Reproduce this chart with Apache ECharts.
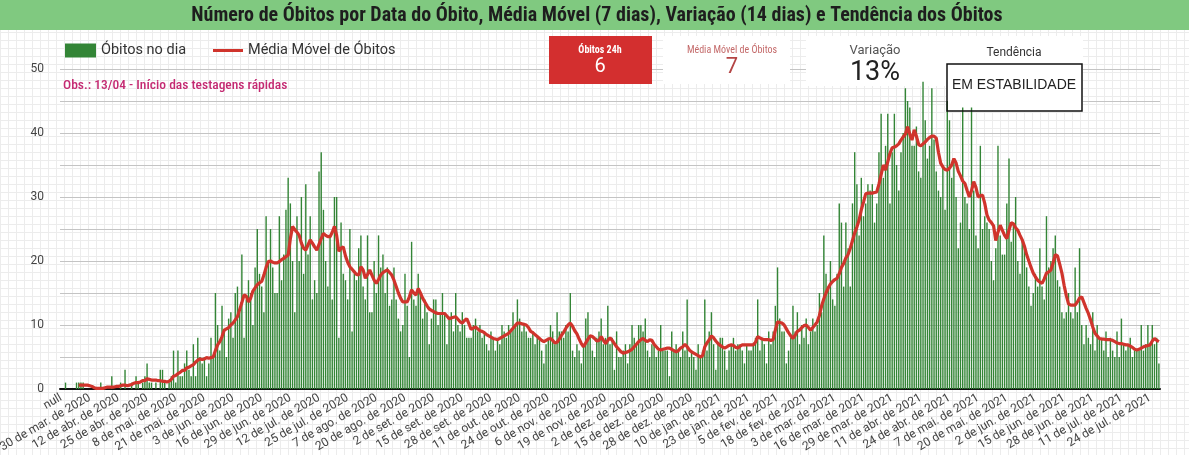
<!DOCTYPE html>
<html>
<head>
<meta charset="utf-8">
<script src="https://cdn.jsdelivr.net/npm/echarts@6/dist/echarts.min.js"></script>
<style>
  html, body { margin: 0; padding: 0; }
  body {
    background-color: #fff;
    background-image: linear-gradient(#ececec 1px, transparent 1px), linear-gradient(90deg, #ececec 1px, transparent 1px);
    background-size: 8px 8px;
  }
  #main { width: 1189px; height: 455px; }
</style>
</head>
<body>
<div id="main"></div>
<script>
// óbitos por dia (índice 0 = data nula, depois dias a partir de 18/03/2020)
const obitos = [
  null, 0, 1, 0, 0, 0, 0, 1, 1, 1,
  1, 0, 0, 0, 0, 0, 0, 0, 1, 0,
  0, 0, 0, 2, 0, 0, 0, 1, 0, 3,
  0, 0, 1, 0, 2, 1, 0, 1, 2, 4,
  1, 1, 0, 1, 0, 3, 3, 1, 0, 1,
  2, 6, 1, 6, 2, 2, 4, 6, 3, 2,
  7, 2, 8, 5, 4, 5, 2, 4, 8, 5,
  15, 10, 6, 13, 9, 5, 11, 12, 8, 15,
  16, 12, 21, 8, 14, 17, 15, 10, 19, 25,
  18, 16, 12, 27, 20, 25, 19, 15, 15, 27,
  17, 21, 28, 33, 29, 20, 12, 27, 20, 30,
  18, 32, 21, 27, 14, 17, 15, 34, 37, 28,
  20, 16, 24, 14, 30, 30, 8, 26, 18, 17,
  14, 25, 9, 18, 17, 22, 24, 16, 14, 24,
  12, 12, 20, 15, 24, 19, 21, 15, 19, 13,
  14, 19, 14, 11, 9, 10, 18, 13, 5, 23,
  14, 13, 18, 15, 11, 14, 12, 7, 11, 14,
  14, 10, 12, 15, 12, 7, 11, 12, 9, 15,
  10, 9, 12, 10, 8, 8, 8, 10, 11, 9,
  10, 8, 9, 7, 6, 9, 8, 6, 8, 7,
  10, 9, 8, 10, 9, 12, 10, 14, 11, 9,
  10, 9, 8, 8, 9, 7, 8, 8, 6, 4,
  7, 8, 10, 9, 7, 12, 9, 9, 8, 10,
  9, 15, 6, 5, 7, 6, 4, 7, 11, 12,
  8, 6, 5, 8, 9, 11, 7, 8, 13, 7,
  8, 3, 9, 5, 5, 6, 7, 4, 7, 10,
  8, 7, 10, 10, 9, 11, 6, 5, 7, 7,
  5, 6, 10, 6, 6, 6, 2, 9, 6, 7,
  6, 5, 9, 6, 14, 5, 6, 5, 3, 7,
  5, 6, 14, 6, 9, 12, 7, 3, 7, 8,
  8, 6, 3, 6, 7, 8, 6, 7, 7, 6,
  4, 7, 6, 6, 7, 8, 14, 6, 8, 7,
  4, 9, 7, 9, 13, 19, 11, 9, 9, 4,
  6, 8, 13, 9, 12, 7, 10, 8, 11, 7,
  9, 11, 9, 10, 15, 12, 24, 18, 16, 20,
  14, 13, 18, 29, 26, 16, 26, 22, 16, 29,
  37, 32, 24, 33, 27, 29, 32, 31, 32, 26,
  29, 37, 43, 33, 38, 43, 29, 37, 43, 35,
  31, 37, 40, 47, 45, 44, 38, 38, 41, 34,
  33, 48, 42, 36, 38, 47, 39, 34, 31, 30,
  35, 28, 45, 42, 33, 36, 30, 22, 26, 44,
  30, 29, 25, 44, 31, 24, 22, 38, 25, 27,
  26, 25, 20, 17, 22, 38, 24, 21, 21, 29,
  36, 23, 26, 30, 20, 18, 23, 22, 19, 16,
  13, 15, 18, 16, 22, 16, 14, 27, 19, 20,
  22, 24, 17, 16, 12, 11, 12, 15, 12, 11,
  19, 12, 22, 10, 7, 10, 8, 7, 12, 6,
  10, 8, 8, 6, 9, 5, 8, 6, 5, 9,
  5, 11, 7, 6, 7, 8, 5, 6, 6, 6,
  10, 6, 7, 10, 7, 10, 7, 8, 4
]

// média móvel de 7 dias
const mediaMovel = [
  null, null, null, null, null, null, null, null, 0.6, 0.6,
  0.6, 0.6, 0.6, 0.5, 0.4, 0.2, 0.1, 0.1, 0.1, 0.1,
  0.2, 0.3, 0.3, 0.3, 0.3, 0.4, 0.4, 0.5, 0.6, 0.6,
  0.5, 0.6, 0.7, 0.9, 1.0, 1.0, 1.1, 1.3, 1.3, 1.6,
  1.5, 1.4, 1.4, 1.4, 1.3, 1.3, 1.2, 1.2, 1.1, 1.2,
  1.5, 2.0, 2.1, 2.4, 2.6, 2.9, 2.9, 3.3, 3.4, 3.6,
  3.8, 4.2, 4.5, 4.7, 4.6, 4.7, 4.9, 4.8, 4.9, 5.0,
  6.0, 6.9, 7.4, 8.2, 9.2, 9.4, 9.6, 10.0, 10.3, 10.8,
  11.3, 12.4, 13.5, 14.7, 14.5, 13.6, 14.2, 15.3, 15.8, 16.3,
  16.6, 16.8, 17.8, 19.0, 19.9, 20.0, 19.8, 19.7, 19.7, 19.9,
  20.2, 20.4, 20.7, 20.9, 23.5, 25.4, 24.9, 24.5, 24.0, 22.8,
  22.0, 21.7, 22.5, 23.3, 22.8, 22.2, 21.7, 22.6, 23.5, 24.3,
  24.0, 23.8, 23.8, 24.5, 25.4, 24.0, 21.5, 22.0, 22.2, 20.8,
  19.8, 19.1, 18.7, 18.3, 17.9, 17.8, 19.1, 18.6, 17.3, 17.9,
  18.6, 17.8, 17.0, 16.5, 17.1, 17.8, 18.2, 18.4, 18.6, 18.2,
  17.8, 17.0, 16.0, 15.0, 14.2, 13.6, 13.6, 13.6, 14.4, 15.5,
  15.0, 14.7, 15.7, 15.0, 14.2, 13.6, 13.0, 12.5, 12.3, 12.1,
  11.9, 11.8, 11.8, 11.8, 11.8, 11.4, 11.0, 11.1, 11.2, 11.3,
  10.9, 10.5, 10.3, 10.7, 11.0, 10.2, 9.3, 9.5, 9.7, 9.4,
  9.1, 9.0, 8.8, 8.5, 8.3, 8.1, 7.9, 7.8, 7.7, 7.9,
  8.1, 8.3, 8.5, 8.7, 9.1, 9.5, 9.9, 10.3, 10.3, 10.2,
  10.1, 10.0, 9.6, 9.0, 8.8, 8.5, 8.2, 7.9, 7.6, 7.4,
  7.6, 7.8, 7.9, 7.6, 7.2, 7.3, 7.8, 8.4, 8.9, 9.5,
  10.0, 10.3, 9.8, 9.1, 8.6, 7.8, 7.1, 6.6, 7.2, 7.8,
  8.3, 8.2, 7.9, 7.5, 7.6, 8.2, 7.6, 7.1, 7.6, 8.0,
  7.6, 7.1, 6.6, 6.2, 5.8, 5.6, 5.7, 5.8, 6.0, 6.2,
  6.6, 7.0, 7.4, 7.7, 7.9, 7.6, 7.4, 7.7, 7.6, 7.0,
  6.6, 6.2, 6.1, 6.2, 6.3, 6.4, 6.4, 6.2, 6.0, 5.8,
  6.0, 6.4, 6.6, 7.0, 6.6, 6.1, 5.8, 5.6, 5.4, 5.2,
  5.0, 5.2, 6.6, 7.2, 7.7, 8.3, 8.0, 7.5, 7.1, 6.8,
  6.6, 6.4, 6.6, 6.8, 6.9, 6.8, 6.5, 6.4, 6.7, 6.9,
  6.9, 6.9, 6.9, 6.9, 6.9, 7.3, 8.2, 8.0, 7.8, 7.7,
  7.7, 7.7, 7.6, 7.7, 9.2, 10.5, 10.4, 10.3, 10.0, 9.4,
  8.8, 8.3, 7.9, 8.4, 9.0, 9.2, 9.6, 9.9, 10.0, 9.6,
  9.2, 9.6, 10.0, 10.5, 11.5, 13.0, 14.1, 15.0, 15.8, 16.4,
  16.8, 17.1, 17.3, 18.0, 19.0, 19.6, 20.5, 21.0, 22.0, 23.2,
  24.4, 25.3, 26.4, 28.0, 29.2, 30.5, 30.6, 30.6, 30.6, 30.7,
  30.8, 32.0, 33.5, 35.0, 34.2, 35.5, 36.8, 37.7, 37.8, 38.0,
  38.3, 38.9, 39.4, 39.8, 41.0, 39.8, 38.9, 40.5, 39.5, 38.2,
  38.0, 38.3, 38.6, 39.0, 39.3, 39.5, 39.5, 39.2, 37.0, 35.3,
  34.7, 34.3, 34.2, 34.5, 35.0, 36.0, 35.3, 34.0, 33.3, 32.5,
  32.1, 31.0, 30.0, 31.0, 32.4, 31.5, 30.0, 30.2, 30.3, 29.0,
  27.2, 26.4, 26.0, 25.5, 23.2, 24.5, 25.6, 24.8, 24.0, 23.5,
  24.8, 26.0, 25.8, 25.2, 24.8, 24.0, 23.3, 22.3, 21.0, 20.0,
  19.0, 18.1, 17.5, 17.0, 16.7, 16.5, 17.2, 18.1, 18.3, 18.6,
  19.7, 21.0, 20.8, 19.5, 18.1, 16.2, 14.6, 13.3, 13.1, 13.1,
  13.1, 13.6, 14.2, 14.4, 13.5, 12.6, 11.8, 10.8, 9.7, 8.7,
  8.3, 7.9, 7.8, 7.8, 7.7, 7.7, 7.7, 7.6, 7.4, 7.2,
  7.1, 7.1, 7.0, 6.9, 6.9, 6.7, 6.5, 6.2, 6.1, 6.2,
  6.4, 6.6, 6.7, 6.8, 6.9, 7.5, 7.9, 7.6, 7.4
]

// eixo x: categoria "null" seguida dos dias
const primeiroDia = Date.UTC(2020, 2, 18)
const meses = ['jan.', 'fev.', 'mar.', 'abr.', 'mai.', 'jun.', 'jul.', 'ago.', 'set.', 'out.', 'nov.', 'dez.']
const categorias = ['null']
for (let i = 1; i < obitos.length; i++) {
  const d = new Date(primeiroDia + (i - 1) * 86400000)
  categorias.push(`${d.getUTCDate()} de ${meses[d.getUTCMonth()]} de ${d.getUTCFullYear()}`)
}

// indicadores do painel
const obitos24h = '6'
const mediaAtual = '7'
const variacao = '13%'
const tendencia = 'EM ESTABILIDADE'

const condensed = "'Roboto Condensed', 'Liberation Sans Narrow', 'DejaVu Sans Condensed', Roboto, sans-serif"
const verde = '#338536'
const vermelho = '#d0342c'

const chart = echarts.init(document.getElementById('main'), null, { renderer: 'canvas' })

chart.setOption({
  animation: false,
  backgroundColor: 'transparent',
  legend: [
    {
      data: ['Óbitos no dia'],
      left: 60,
      top: 38,
      icon: 'rect',
      itemWidth: 31,
      itemHeight: 14,
      itemGap: 7,
      textStyle: { fontSize: 14.5, color: '#333', fontFamily: 'Roboto' }
    },
    {
      data: ['Média Móvel de Óbitos'],
      left: 208,
      top: 38,
      icon: 'rect',
      itemWidth: 30,
      itemHeight: 3,
      textStyle: { fontSize: 14.5, color: '#333', fontFamily: 'Roboto' }
    }
  ],
  grid: {
    left: 60,
    right: 29,
    top: 69,
    bottom: 66,
    containLabel: false,
    outerBoundsMode: 'none'
  },
  xAxis: {
    type: 'category',
    data: categorias,
    axisTick: { show: false },
    axisLine: { lineStyle: { color: '#111', width: 2 } },
    axisLabel: {
      interval: 12,
      rotate: 30,
      margin: 8,
      fontSize: 12,
      color: '#444',
      fontFamily: 'Roboto',
      hideOverlap: false
    }
  },
  yAxis: {
    type: 'value',
    min: 0,
    max: 50,
    interval: 5,
    axisLine: { show: false },
    axisTick: { show: false },
    axisLabel: {
      margin: 16,
      fontSize: 12,
      color: '#444',
      fontFamily: 'Roboto',
      formatter: v => (v % 10 === 0 ? v : '')
    },
    splitLine: { lineStyle: { color: '#c4c4c4', width: 1 } }
  },
  series: [
    {
      name: 'Óbitos no dia',
      type: 'bar',
      data: obitos,
      barWidth: 1.4,
      itemStyle: { color: verde },
      z: 2
    },
    {
      name: 'Média Móvel de Óbitos',
      type: 'line',
      data: mediaMovel,
      showSymbol: false,
      symbol: 'none',
      itemStyle: { color: vermelho },
      lineStyle: { color: vermelho, width: 3.2 },
      z: 3
    }
  ],
  graphic: [
    // faixa do título
    { type: 'rect', z: 10, shape: { x: 0, y: 0, width: 1189, height: 30 }, style: { fill: '#80c980' } },
    {
      type: 'text', z: 11, x: 597, y: 16,
      style: {
        text: 'Número de Óbitos por Data do Óbito, Média Móvel (7 dias), Variação (14 dias) e Tendência dos Óbitos',
        font: `bold 20px ${condensed}`, fill: '#1e1e1e', textAlign: 'center', textVerticalAlign: 'middle'
      }
    },
    // observação
    {
      type: 'text', z: 5, x: 63, y: 86,
      style: {
        text: 'Obs.: 13/04 - Início das testagens rápidas',
        font: `500 13.5px ${condensed}`, fill: '#c42a72', textAlign: 'left', textVerticalAlign: 'middle'
      }
    },
    // cartão óbitos 24h
    { type: 'rect', z: 1, shape: { x: 549, y: 36, width: 103, height: 48 }, style: { fill: '#d32f2f' } },
    {
      type: 'text', z: 5, x: 600, y: 50,
      style: { text: 'Óbitos 24h', font: `bold 10px ${condensed}`, fill: '#fff', textAlign: 'center', textVerticalAlign: 'middle' }
    },
    {
      type: 'text', z: 5, x: 600, y: 67,
      style: { text: obitos24h, font: '20px Roboto', fill: '#fff', textAlign: 'center', textVerticalAlign: 'middle' }
    },
    // cartão média móvel
    { type: 'rect', z: 1, shape: { x: 663, y: 36, width: 127, height: 48 }, style: { fill: '#fff' } },
    {
      type: 'text', z: 5, x: 732, y: 50,
      style: { text: 'Média Móvel de Óbitos', font: `10px ${condensed}`, fill: '#c46a6a', textAlign: 'center', textVerticalAlign: 'middle' }
    },
    {
      type: 'text', z: 5, x: 732, y: 67,
      style: { text: mediaAtual, font: '22px Roboto', fill: '#b44545', textAlign: 'center', textVerticalAlign: 'middle' }
    },
    // cartão variação
    { type: 'rect', z: 1, shape: { x: 806, y: 36, width: 140, height: 50 }, style: { fill: '#fff' } },
    {
      type: 'text', z: 5, x: 875, y: 51,
      style: { text: 'Variação', font: '13px Roboto', fill: '#555', textAlign: 'center', textVerticalAlign: 'middle' }
    },
    {
      type: 'text', z: 5, x: 875, y: 73,
      style: { text: variacao, font: '27px Roboto', fill: '#222', textAlign: 'center', textVerticalAlign: 'middle' }
    },
    // tendência
    { type: 'rect', z: 1, shape: { x: 946, y: 36, width: 137, height: 75 }, style: { fill: '#fff' } },
    {
      type: 'text', z: 5, x: 1014, y: 53,
      style: { text: 'Tendência', font: '12px Roboto', fill: '#333', textAlign: 'center', textVerticalAlign: 'middle' }
    },
    {
      type: 'rect', z: 5, shape: { x: 947, y: 64, width: 135, height: 47 },
      style: { fill: 'transparent', stroke: '#111', lineWidth: 1.5 }
    },
    {
      type: 'text', z: 5, x: 1014, y: 85,
      style: { text: tendencia, font: '14px Arial, "Liberation Sans", sans-serif', fill: '#222', textAlign: 'center', textVerticalAlign: 'middle' }
    }
  ]
})
</script>
</body>
</html>
